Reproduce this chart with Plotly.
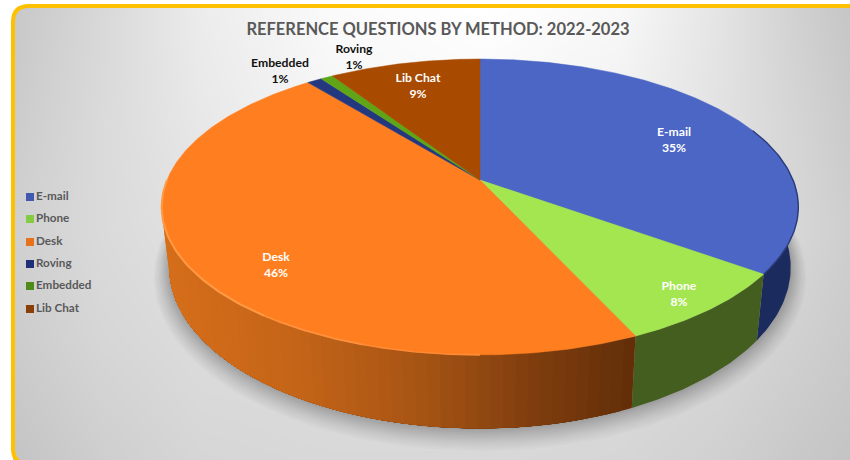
import math
import numpy as np
import plotly.graph_objects as go

categories = ["E-mail", "Phone", "Desk", "Roving", "Embedded", "Lib Chat"]
values = [35.0, 8.2, 46.0, 0.9, 0.75, 9.15]
title_text = "REFERENCE QUESTIONS BY METHOD: 2022-2023"
top_colors = ["#4B66C5", "#A3E650", "#FF7F20", "#24387F", "#5FA515", "#A84A00"]
side_colors = ["#1C2B5E", "#445E20", None, "#14204A", "#385E10", "#5E2A00"]
legend_colors = ["#3F5AB0", "#84CC40", "#E8721C", "#1F2F78", "#4F8A1A", "#8A3F08"]

# Names shown beside each slice sit as in the source chart
label_names = {"Roving": "Embedded", "Embedded": "Roving"}
label_xy = {"E-mail": (674, 141), "Phone": (679, 295), "Desk": (276, 266),
            "Lib Chat": (418, 87), "Roving": (280, 72), "Embedded": (354, 58)}
label_col = {"E-mail": "white", "Phone": "white", "Desk": "white", "Lib Chat": "white",
             "Roving": "#111111", "Embedded": "#111111"}
legend_y = [196, 218, 241, 263, 285, 308]

# Backdrop grey levels
bg_x = [0, 15, 100, 200, 330, 480, 620, 720, 800, 850]
bg_y = [0, 10, 120, 230, 340, 460]
bg_z = [
    [196, 198, 214, 235, 250, 255, 248, 228, 208, 198],
    [198, 200, 216, 236, 250, 255, 248, 228, 208, 198],
    [200, 204, 218, 232, 245, 248, 240, 226, 212, 202],
    [204, 208, 218, 226, 232, 234, 230, 222, 214, 206],
    [200, 204, 214, 220, 222, 222, 220, 216, 208, 202],
    [192, 196, 206, 214, 216, 216, 214, 208, 200, 196],
]

# Perspective model of the tilted disc
CX, CY_TOP, A_TOP, B_TOP = 480, 180, 313, 143
CY_BOT, A_BOT, B_BOT = 238, 305.5, 155.7
K = 0.1824


def project(frac, cy, a, b):
    t = np.asarray(frac) * 2 * np.pi
    u, v = np.sin(t), np.cos(t)
    d = 1 + K * v
    return CX + a * u / d, cy - b * v / d


def top(frac):
    return project(frac, CY_TOP, A_TOP, B_TOP)


def bot(frac):
    return project(frac, CY_BOT, A_BOT, B_BOT)


fig = go.Figure()
fig.add_trace(go.Heatmap(x=bg_x, y=bg_y, z=bg_z, zmin=0, zmax=255, zsmooth="best",
                         colorscale=[[0, "black"], [1, "white"]], showscale=False, hoverinfo="skip"))

# Soft shadow beneath the pie
ring = np.linspace(0, 1, 240)
for grow in range(22, 0, -2):
    alpha = 0.018 + (22 - grow) * 0.0018
    sx, sy = project(ring, CY_BOT + grow * .35, A_BOT + grow * .7, B_BOT + grow * .55)
    fig.add_trace(go.Scatter(x=sx, y=sy, mode="lines", fill="toself", line=dict(width=0),
                             fillcolor=f"rgba(60,60,60,{alpha:.4f})", hoverinfo="skip", showlegend=False))

total = sum(values)
edges = np.cumsum([0] + values) / total

# Desk wall shading stops (x pixel, rgb)
wall_x = [170, 300, 425, 530, 632]
wall_rgb = [(214, 110, 26), (196, 100, 24), (165, 84, 20), (128, 62, 14), (98, 46, 8)]

for i, cat in enumerate(categories):
    a0, a1 = edges[i], edges[i + 1]
    lo, hi = max(a0, .25), min(a1, .75)
    if hi <= lo:
        continue
    n = 60 if side_colors[i] is None else 1
    cuts = np.linspace(lo, hi, n + 1)
    for j in range(n):
        # each strip runs on to the far end of the wall, so no seams show
        f = np.linspace(cuts[j], hi, 40)
        tx, ty = top(f)
        bx, by = bot(f)
        if side_colors[i] is None:
            mx, _ = bot((cuts[j] + cuts[j + 1]) / 2)
            rgb = [np.interp(float(mx), wall_x, [c[k] for c in wall_rgb]) for k in range(3)]
            col = f"rgb({rgb[0]:.0f},{rgb[1]:.0f},{rgb[2]:.0f})"
        else:
            col = side_colors[i]
        fig.add_trace(go.Scatter(x=np.r_[tx, bx[::-1]], y=np.r_[ty, by[::-1]], mode="lines",
                                 fill="toself", fillcolor=col, line=dict(width=0),
                                 hoverinfo="skip", showlegend=False))

for i, cat in enumerate(categories):
    f = np.linspace(edges[i], edges[i + 1], max(4, int(values[i] * 6)))
    tx, ty = top(f)
    fig.add_trace(go.Scatter(x=np.r_[CX, tx, CX], y=np.r_[CY_TOP, ty, CY_TOP], mode="lines",
                             fill="toself", fillcolor=top_colors[i],
                             line=dict(width=.5, color=top_colors[i]),
                             name=cat, showlegend=False, hoverinfo="name"))

# Rims: dark on the right of E-mail, light along the front of Desk
for f0, f1, col, w in [(.19, .35, "#2C3C7A", 1.4), (.50, .55, "#FF8A33", 1.6),
                       (.55, .60, "#FF913C", 1.8), (.60, .75, "#FF9A45", 2.0)]:
    rx, ry = top(np.linspace(f0, f1, 50))
    fig.add_trace(go.Scatter(x=rx, y=ry, mode="lines", line=dict(width=w, color=col),
                             hoverinfo="skip", showlegend=False))

# Slice labels
for cat, val in zip(categories, values):
    lx, ly = label_xy[cat]
    name = label_names.get(cat, cat)
    fig.add_trace(go.Scatter(x=[lx], y=[ly], mode="text", text=[f"{name}<br>{round(val / total * 100)}%"],
                             textfont=dict(family="Lato", size=12.2, color=label_col[cat], weight="bold"),
                             textposition="middle center", hoverinfo="skip", showlegend=False))

# Legend
fig.add_trace(go.Scatter(x=[30] * len(categories), y=[y + 1 for y in legend_y], mode="markers+text",
                         text=categories, textposition="middle right",
                         textfont=dict(family="Lato", size=11.7, color="#595959", weight="bold"),
                         marker=dict(symbol="square", size=8, color=legend_colors),
                         hoverinfo="skip", showlegend=False))

shapes = [
    # white outside the rounded frame
    dict(type="path", xref="x", yref="y", fillcolor="white", line=dict(width=0), fillrule="evenodd", layer="above",
         path="M -5,-5 L 860,-5 L 860,470 L -5,470 Z M 13,22 Q 13,6 29,6 L 860,6 L 860,445 L 860,470 L 13,470 Z"),
    dict(type="path", xref="x", yref="y", line=dict(color="#FFC000", width=4), layer="above",
         path="M 870,6 L 29,6 Q 13,6 13,22 L 13,449 Q 13,459 21,463"),
]

fig.update_layout(
    width=850, height=460, margin=dict(l=0, r=0, t=0, b=0),
    paper_bgcolor="white", plot_bgcolor="white", showlegend=False, shapes=shapes,
    title=dict(text=title_text, x=438 / 850, y=1 - 29 / 460, xanchor="center", yanchor="middle",
               font=dict(family="Lato", size=16.5, color="#595959", weight="bold")),
    xaxis=dict(range=[0, 850], visible=False, fixedrange=True),
    yaxis=dict(range=[460, 0], visible=False, fixedrange=True),
)
fig.write_html("out.html", config={"displayModeBar": False},
               post_script="document.body.style.margin='0';document.body.style.overflow='hidden';")
